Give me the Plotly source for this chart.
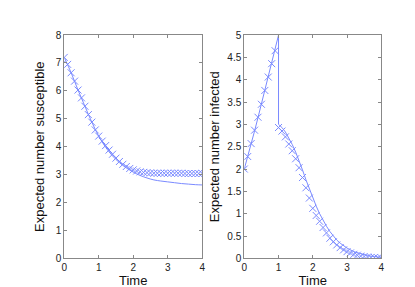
import plotly.graph_objects as go

t_marks = [round(i * 0.1, 1) for i in range(41)]

s_marks = [7.2, 6.95, 6.65, 6.35, 6.03, 5.75, 5.45, 5.15, 4.88, 4.6,
           4.38, 4.2, 4.04, 3.88, 3.73, 3.59, 3.47, 3.37, 3.29, 3.22,
           3.17, 3.13, 3.1, 3.08, 3.07, 3.06, 3.05, 3.05, 3.05, 3.05,
           3.05, 3.05, 3.05, 3.05, 3.05, 3.04, 3.04, 3.04, 3.04, 3.04, 3.04]

t_s_line = [0, 0.2, 0.4, 0.6, 0.8, 1.0, 1.2, 1.4, 1.6, 1.8, 2.0, 2.2, 2.4,
            2.6, 2.8, 3.0, 3.2, 3.4, 3.6, 3.8, 4.0]
s_line = [7.2, 6.65, 6.03, 5.45, 4.88, 4.38, 3.98, 3.67, 3.43, 3.24, 3.09,
          2.97, 2.88, 2.81, 2.77, 2.74, 2.71, 2.68, 2.66, 2.64, 2.63]

i_marks = [2.0, 2.28, 2.57, 2.87, 3.16, 3.45, 3.76, 4.06, 4.36, 4.65,
           2.93, 2.85, 2.72, 2.56, 2.41, 2.23, 2.03, 1.81, 1.58, 1.35,
           1.12, 0.96, 0.83, 0.69, 0.57, 0.45, 0.37, 0.3, 0.24, 0.19,
           0.15, 0.12, 0.09, 0.07, 0.05, 0.04, 0.03, 0.02, 0.02, 0.01, 0.01]

t_i_line = [0, 0.1, 0.2, 0.3, 0.4, 0.5, 0.6, 0.7, 0.8, 0.9, 1.0, 1.0,
            1.1, 1.2, 1.3, 1.4, 1.5, 1.6, 1.7, 1.8, 1.9, 2.0, 2.1, 2.2,
            2.3, 2.4, 2.5, 2.6, 2.7, 2.8, 2.9, 3.0, 3.2, 3.4, 3.6, 3.8, 4.0]
i_line = [2.0, 2.27, 2.56, 2.85, 3.15, 3.45, 3.75, 4.05, 4.37, 4.68, 5.0, 3.0,
          2.93, 2.83, 2.7, 2.55, 2.38, 2.19, 1.98, 1.76, 1.55, 1.35, 1.17, 1.0,
          0.85, 0.72, 0.6, 0.5, 0.41, 0.34, 0.28, 0.23, 0.15, 0.1, 0.06, 0.04, 0.02]

x_ticks = [0, 1, 2, 3, 4]
s_ticks = [0, 1, 2, 3, 4, 5, 6, 7, 8]
i_ticks = [0, 0.5, 1, 1.5, 2, 2.5, 3, 3.5, 4, 4.5, 5]
i_tick_text = ["0", "0.5", "1", "1.5", "2", "2.5", "3", "3.5", "4", "4.5", "5"]

C = "#7a8aff"
FONT = "Liberation Sans"
fig = go.Figure()
fig.add_trace(go.Scatter(x=t_s_line, y=s_line, mode="lines", line=dict(color=C, width=1, shape="spline"),
                         xaxis="x", yaxis="y", showlegend=False))
fig.add_trace(go.Scatter(x=t_marks, y=s_marks, mode="markers",
                         marker=dict(symbol="x-thin", size=7, line=dict(color=C, width=1)),
                         xaxis="x", yaxis="y", showlegend=False))
fig.add_trace(go.Scatter(x=t_i_line, y=i_line, mode="lines", line=dict(color=C, width=1),
                         xaxis="x2", yaxis="y2", showlegend=False))
fig.add_trace(go.Scatter(x=t_marks, y=i_marks, mode="markers",
                         marker=dict(symbol="x-thin", size=7, line=dict(color=C, width=1)),
                         xaxis="x2", yaxis="y2", showlegend=False))

ax_common = dict(showline=True, linecolor="#888888", linewidth=1, mirror="ticks",
                 ticks="inside", ticklen=3, tickcolor="#888888", showgrid=False,
                 zeroline=False, tickfont=dict(family=FONT, size=10, color="#222222"))
title_font = dict(family=FONT, size=13, color="#111111")
ydom = [1 - 255 / 287, 1 - 22 / 287]
fig.update_layout(
    width=415, height=287, margin=dict(l=0, r=0, t=0, b=0),
    paper_bgcolor="white", plot_bgcolor="white",
    xaxis=dict(domain=[54 / 415, 194 / 415], range=[0, 4], tickvals=x_ticks,
               title=dict(text="Time", font=title_font, standoff=0),
               anchor="y", **ax_common),
    yaxis=dict(domain=ydom, range=[0, 8], tickvals=s_ticks,
               title=dict(text="Expected number susceptible", font=title_font, standoff=8),
               anchor="x", **ax_common),
    xaxis2=dict(domain=[236.7 / 415, 375.7 / 415], range=[0, 4], tickvals=x_ticks,
                title=dict(text="Time", font=title_font, standoff=0),
                anchor="y2", **ax_common),
    yaxis2=dict(domain=ydom, range=[0, 5], tickvals=i_ticks, ticktext=i_tick_text,
                title=dict(text="Expected number infected", font=title_font, standoff=4),
                anchor="x2", **ax_common),
)
fig.write_html("out.html")
